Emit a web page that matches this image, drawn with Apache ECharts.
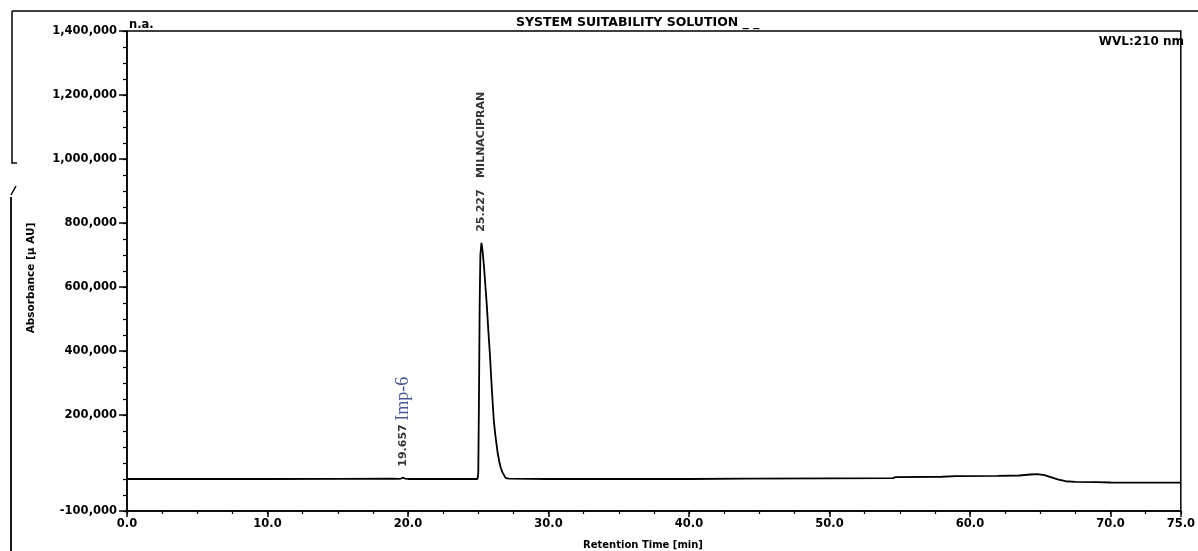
<!DOCTYPE html>
<html>
<head>
<meta charset="utf-8">
<script src="https://cdn.jsdelivr.net/npm/echarts@6/dist/echarts.min.js"></script>
<style>
html,body{margin:0;padding:0;background:#fff;}
#chart{width:1198px;height:551px;}
</style>
</head>
<body>
<div id="chart"></div>
<script>
// Retention time (min) and absorbance (µAU)
const retentionTime = [0, 5, 10, 15, 18.9, 19.3, 19.5, 19.657, 19.8, 20.1, 24.0, 24.95, 25.0, 25.05, 25.1, 25.15, 25.227, 25.3, 25.4, 25.46, 25.6, 25.7, 25.82, 25.95, 26.1, 26.2, 26.38, 26.5, 26.6, 26.74, 26.95, 27.2, 30, 35, 40, 44, 50, 54.5, 54.7, 58, 59, 62, 63.5, 64.3, 64.8, 65.3, 65.8, 66.3, 66.8, 67.5, 69, 70, 72, 75];
const absorbance    = [0, 0, 0, 500, 1000, 500, 1500, 4000, 1000, 0, 0, 0, 20000, 250000, 550000, 700000, 738000, 715000, 668000, 632000, 548000, 475000, 395000, 292000, 186000, 142000, 82000, 53000, 35000, 19000, 3000, 1000, 0, 0, 0, 1000, 2000, 3000, 6000, 7000, 9000, 10000, 11000, 14000, 15000, 12000, 5000, -2000, -7000, -9000, -9500, -11000, -11500, -11500];

// Peak annotations
const peakTimes   = [19.657, 25.227];
const peakHeights = [4000, 738000];
const peakLabels  = ['19.657', '25.227   MILNACIPRAN'];
const impurityName = 'Imp-6';

// Axis tick labels
const xLabelValues = [0, 10, 20, 30, 40, 50, 60, 70, 75];
const yLabelValues = [-100000, 200000, 400000, 600000, 800000, 1000000, 1200000, 1400000];

const titleText = 'SYSTEM SUITABILITY SOLUTION _ _';
const wvlText = 'WVL:210 nm';
const naText = 'n.a.';
const xName = 'Retention Time [min]';
const yName = 'Absorbance [µ AU]';

const FONT = 'DejaVu Sans';
const chart = echarts.init(document.getElementById('chart'));

const trace = retentionTime.map((t, i) => [t, absorbance[i]]);
const peaks = peakTimes.map((t, i) => ({ value: [t, peakHeights[i]], name: peakLabels[i] }));

const option = {
  animation: false,
  backgroundColor: '#fff',
  grid: { left: 127, right: 11, top: 31, bottom: 40, show: true, borderColor: '#000', borderWidth: 1.5, backgroundColor: 'transparent' },
  xAxis: [
    {
      type: 'value', min: 0, max: 75, position: 'bottom',
      axisLine: { show: true, onZero: false, lineStyle: { color: '#000', width: 1.5 } },
      axisTick: { show: true, customValues: xLabelValues, length: 6, lineStyle: { color: '#000', width: 1.5 } },
      axisLabel: { show: true, customValues: xLabelValues, formatter: v => Number(v).toFixed(1), color: '#000', fontFamily: FONT, fontWeight: 'bold', fontSize: 11.5, margin: 7 },
      splitLine: { show: false }
    },
    {
      type: 'value', min: 0, max: 75, interval: 2.5, position: 'bottom',
      axisLine: { show: false, onZero: false },
      axisTick: { show: true, length: 3, lineStyle: { color: '#000', width: 1.2 } },
      axisLabel: { show: false },
      splitLine: { show: false }
    }
  ],
  yAxis: [
    {
      type: 'value', min: -100000, max: 1400000, position: 'left',
      axisLine: { show: true, onZero: false, lineStyle: { color: '#000', width: 1.5 } },
      axisTick: { show: true, customValues: yLabelValues, length: 8, lineStyle: { color: '#000', width: 1.5 } },
      axisLabel: { show: true, customValues: yLabelValues, formatter: v => Number(v).toLocaleString('en-US'), color: '#000', fontFamily: FONT, fontWeight: 'bold', fontSize: 11.5, margin: 10 },
      splitLine: { show: false }
    },
    {
      type: 'value', min: -100000, max: 1400000, interval: 50000, position: 'left',
      axisLine: { show: false, onZero: false },
      axisTick: { show: true, length: 4, lineStyle: { color: '#000', width: 1.2 } },
      axisLabel: { show: false },
      splitLine: { show: false }
    }
  ],
  series: [
    {
      type: 'line', xAxisIndex: 0, yAxisIndex: 0, data: trace,
      showSymbol: false, symbol: 'none',
      lineStyle: { color: '#000', width: 1.8 },
      z: 3
    },
    {
      type: 'scatter', xAxisIndex: 0, yAxisIndex: 0, data: peaks,
      symbol: 'circle', symbolSize: 2,
      itemStyle: { color: 'rgba(0,0,0,0)' },
      label: {
        show: true, position: 'top', distance: 10, rotate: 90,
        align: 'left', verticalAlign: 'middle',
        formatter: p => p.name,
        color: '#000', fontFamily: FONT, fontWeight: 'bold', fontSize: 11
      },
      z: 4
    },
    {
      type: 'scatter', xAxisIndex: 0, yAxisIndex: 0, data: [{ value: [peakTimes[0], peakHeights[0]], name: impurityName }],
      symbol: 'circle', symbolSize: 2,
      itemStyle: { color: 'rgba(0,0,0,0)' },
      label: {
        show: true, position: 'top', distance: 61, rotate: 90,
        align: 'left', verticalAlign: 'middle', offset: [-5, 0],
        formatter: p => p.name,
        color: '#1a2d7a', fontFamily: 'Liberation Serif', fontSize: 18
      },
      z: 4
    }
  ],
  graphic: [
    { type: 'line', shape: { x1: 12, y1: 11, x2: 1198, y2: 11 }, style: { stroke: '#000', lineWidth: 1.5 } },
    { type: 'polyline', shape: { points: [[12, 11], [12, 163], [17, 163]] }, style: { stroke: '#000', lineWidth: 1.5, fill: null } },
    { type: 'line', shape: { x1: 11, y1: 195, x2: 16, y2: 186 }, style: { stroke: '#000', lineWidth: 1.5 } },
    { type: 'line', shape: { x1: 11, y1: 197, x2: 11, y2: 551 }, style: { stroke: '#000', lineWidth: 1.8 } },
    { type: 'text', left: 129, top: 19, style: { text: naText, fill: '#000', font: 'bold 11.5px "DejaVu Sans"' } },
    { type: 'text', left: 516, top: 16, style: { text: titleText, fill: '#000', font: 'bold 12.5px "DejaVu Sans"' } },
    { type: 'text', right: 14, top: 36, style: { text: wvlText, fill: '#000', font: 'bold 12px "DejaVu Sans"' } },
    { type: 'text', x: 643, y: 545, style: { text: xName, fill: '#000', font: 'bold 10px "DejaVu Sans"', textAlign: 'center', textVerticalAlign: 'middle' } },
    { type: 'text', x: 31, y: 278, rotation: Math.PI / 2, style: { text: yName, fill: '#000', font: 'bold 10.5px "DejaVu Sans"', textAlign: 'center', textVerticalAlign: 'middle' } }
  ]
};
chart.setOption(option);
</script>
</body>
</html>
